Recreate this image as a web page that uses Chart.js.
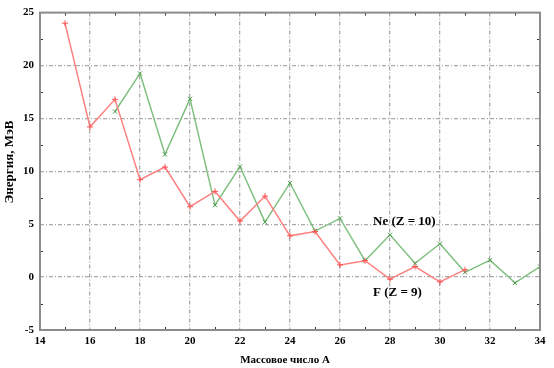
<!DOCTYPE html>
<html><head><meta charset="utf-8">
<script src="https://cdn.jsdelivr.net/npm/chart.js@4"></script>
<style>html,body{margin:0;padding:0;background:#fff}#wrap{width:554px;height:368px}</style>
</head><body><div id="wrap"><canvas id="c" width="554" height="368"></canvas></div>
<script>
const massF = [15,16,17,18,19,20,21,22,23,24,25,26,27,28,29,30,31];
const energyF = [24.0,14.2,16.8,9.2,10.4,6.65,8.1,5.3,7.65,3.9,4.3,1.15,1.55,-0.2,1.0,-0.45,0.7];
const massNe = [17,18,19,20,21,22,23,24,25,26,27,28,29,30,31,32,33,34];
const energyNe = [15.65,19.25,11.6,16.85,6.8,10.45,5.2,8.9,4.35,5.55,1.55,4.0,1.3,3.15,0.45,1.6,-0.55,1.0];
const xTitle = 'Массовое число А';
const yTitle = 'Энергия, МэВ';
const labelNe = {text:'Ne (Z = 10)', x:28, y:5.2};
const labelF = {text:'F (Z = 9)', x:28, y:-1.5};

const font = '"Liberation Serif", "DejaVu Serif", serif';
const gridColor = '#aaaaaa';
const borderColor = '#8c8c8c';

const deco = {
  id:'deco',
  afterDraw(chart){
    const {ctx, chartArea:a, scales:{x,y}} = chart;
    ctx.save();
    ctx.strokeStyle = '#333'; ctx.lineWidth = 1;
    for(let v=15; v<34; v+=2){
      const px = Math.round(x.getPixelForValue(v))+0.5;
      ctx.beginPath(); ctx.moveTo(px,a.bottom); ctx.lineTo(px,a.bottom-3); ctx.stroke();
      ctx.beginPath(); ctx.moveTo(px,a.top); ctx.lineTo(px,a.top+3); ctx.stroke();
    }
    for(let v=-2.5; v<25; v+=5){
      const py = Math.round(y.getPixelForValue(v))+0.5;
      ctx.beginPath(); ctx.moveTo(a.left,py); ctx.lineTo(a.left+3,py); ctx.stroke();
      ctx.beginPath(); ctx.moveTo(a.right,py); ctx.lineTo(a.right-3,py); ctx.stroke();
    }
    ctx.strokeStyle = borderColor; ctx.lineWidth = 2;
    ctx.strokeRect(a.left, a.top, a.right-a.left, a.bottom-a.top);
    ctx.fillStyle = '#000';
    ctx.font = 'bold 13px ' + font;
    ctx.textAlign = 'left'; ctx.textBaseline = 'middle';
    [labelNe, labelF].forEach(l=>{
      ctx.fillText(l.text, x.getPixelForValue(l.x)-17, y.getPixelForValue(l.y));
    });
    ctx.font = 'bold 11px ' + font;
    ctx.textAlign = 'center';
    ctx.fillText(xTitle, 285, 360);
    ctx.save();
    ctx.translate(10, 162);
    ctx.rotate(-Math.PI/2);
    ctx.font = 'bold 13px ' + font;
    ctx.fillText(yTitle, 0, 0);
    ctx.restore();
    ctx.restore();
  }
};

new Chart(document.getElementById('c'), {
  type:'line',
  data:{datasets:[
    {label:'F', data:massF.map((m,i)=>({x:m,y:energyF[i]})),
     borderColor:'#ff8080', backgroundColor:'#ff8080', borderWidth:1.5,
     pointStyle:'cross', pointRadius:3, pointBorderColor:'#ff5050', pointBorderWidth:1, tension:0},
    {label:'Ne', data:massNe.map((m,i)=>({x:m,y:energyNe[i]})),
     borderColor:'#80c080', backgroundColor:'#80c080', borderWidth:1.5,
     pointStyle:'crossRot', pointRadius:3, pointBorderColor:'#4f9a4f', pointBorderWidth:1, tension:0}
  ]},
  options:{
    responsive:false, animation:false, devicePixelRatio:1,
    layout:{padding:{left:0,right:14,top:7,bottom:0}},
    plugins:{legend:{display:false}, tooltip:{enabled:false}},
    scales:{
      x:{type:'linear', min:14, max:34,
         afterFit(s){s.height=38;},
         ticks:{stepSize:2, color:'#000', font:{family:font, weight:'bold', size:11}, padding:5},
         grid:{color:gridColor, drawTicks:false, lineWidth:1.3},
         border:{display:false, dash:[4,2,1,2]}},
      y:{type:'linear', min:-5, max:25,
         afterFit(s){s.width=40;},
         ticks:{stepSize:5, color:'#000', font:{family:font, weight:'bold', size:11}, padding:6},
         grid:{color:gridColor, drawTicks:false, lineWidth:1.3},
         border:{display:false, dash:[4,2,1,2]}}
    }
  },
  plugins:[deco]
});
</script></body></html>
